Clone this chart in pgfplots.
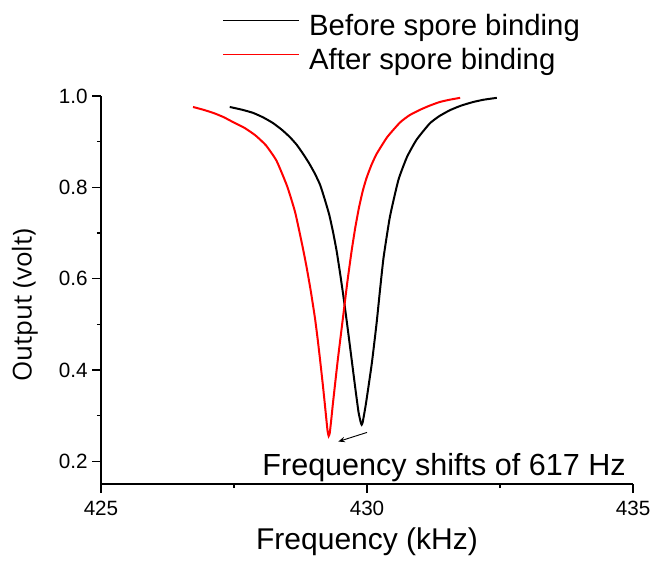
\documentclass[border=0pt]{standalone}
\usepackage{pgfplots}
\pgfplotsset{compat=1.18}
\usepackage{fontspec}
\setmainfont{Liberation Sans}
\newfontfamily\ylabfont{Open Sans}
\usetikzlibrary{arrows.meta}
\begin{document}
\begin{tikzpicture}
\begin{axis}[
  scale only axis,
  width=399pt, height=291pt,
  xmin=425, xmax=435, ymin=0.15, ymax=1.0,
  axis lines=left,
  axis line style={-, line width=1pt},
  tick style={line width=1pt, black},
  tick align=outside,
  major tick length=6.5pt,
  minor tick length=3pt,
  xtick={425,430,435},
  minor x tick num=1,
  ytick={0.2,0.4,0.6,0.8,1.0},
  minor y tick num=1,
  yticklabel style={/pgf/number format/.cd, fixed, fixed zerofill, precision=1},
  /pgf/number format/assume math mode=true,
  ticklabel style={font=\fontsize{15.5}{18}\selectfont},
  xticklabel style={yshift=-3pt},
  xlabel={Frequency (kHz)},
  ylabel={\ylabfont Output (volt)},
  xlabel style={font=\fontsize{22.5}{26}\selectfont, yshift=-2pt},
  ylabel style={font=\fontsize{19.5}{23}\selectfont, at={(axis description cs:-0.143,0.461)}, anchor=center},
  legend style={draw=none, fill=none, at={(0.2274,1.215)}, anchor=north west,
    inner sep=0pt, font=\fontsize{22}{26}\selectfont,
    nodes={inner sep=1pt}, row sep=6pt, column sep=6pt},
  legend cell align=left,
  legend image code/.code={\draw[#1, line width=1.2pt] (0pt,4pt) -- (57pt,4pt);},
]
\addplot[black, line width=1.5pt, smooth, tension=0.3] coordinates {
(427.42,0.976) (427.65,0.970) (427.86,0.963) (428.05,0.953) (428.23,0.941)
(428.40,0.926) (428.55,0.910) (428.68,0.893) (428.80,0.873) (428.91,0.853)
(429.02,0.830) (429.12,0.805) (429.21,0.772) (429.29,0.740) (429.36,0.703)
(429.43,0.660) (429.50,0.607) (429.57,0.550) (429.64,0.488) (429.71,0.424)
(429.78,0.360) (429.84,0.308) (429.88,0.286) (429.90,0.280) (429.92,0.286)
(429.98,0.326) (430.09,0.414) (430.18,0.502) (430.24,0.570) (430.31,0.645)
(430.43,0.735) (430.59,0.816) (430.75,0.866) (430.93,0.904) (431.18,0.940)
(431.36,0.956) (431.56,0.969) (431.77,0.979) (432.00,0.987) (432.20,0.992)
(432.44,0.996)
};
\addlegendentry{Before spore binding}
\addplot[red, line width=1.5pt, smooth, tension=0.3] coordinates {
(426.73,0.976) (426.92,0.970) (427.11,0.963) (427.30,0.954) (427.48,0.943)
(427.70,0.930) (427.90,0.914) (428.10,0.892) (428.30,0.858) (428.50,0.802)
(428.65,0.745) (428.78,0.675) (428.86,0.628) (428.94,0.575) (429.02,0.515)
(429.07,0.470) (429.12,0.420) (429.17,0.367) (429.21,0.322) (429.24,0.287)
(429.26,0.265) (429.28,0.255) (429.30,0.262) (429.33,0.293) (429.36,0.327)
(429.45,0.421) (429.55,0.516) (429.63,0.592) (429.71,0.660) (429.78,0.712)
(429.85,0.756) (429.92,0.792) (429.99,0.820) (430.08,0.848) (430.18,0.873)
(430.38,0.910) (430.62,0.942) (430.80,0.958) (431.00,0.970) (431.18,0.979)
(431.37,0.987) (431.56,0.992) (431.75,0.996)
};
\addlegendentry{After spore binding}
\draw[-{Stealth[length=5pt,width=4pt]}, line width=0.7pt] (axis cs:430.0,0.263) -- (axis cs:429.46,0.243);
\node[anchor=base west, inner sep=0pt, font=\fontsize{22.9}{26}\selectfont] at (axis cs:428.03,0.169) {Frequency shifts of 617 Hz};
\end{axis}
\pgfresetboundingbox
\path[use as bounding box] (-75.75pt,-63.75pt) rectangle (415.5pt,363pt);
\end{tikzpicture}
\end{document}
